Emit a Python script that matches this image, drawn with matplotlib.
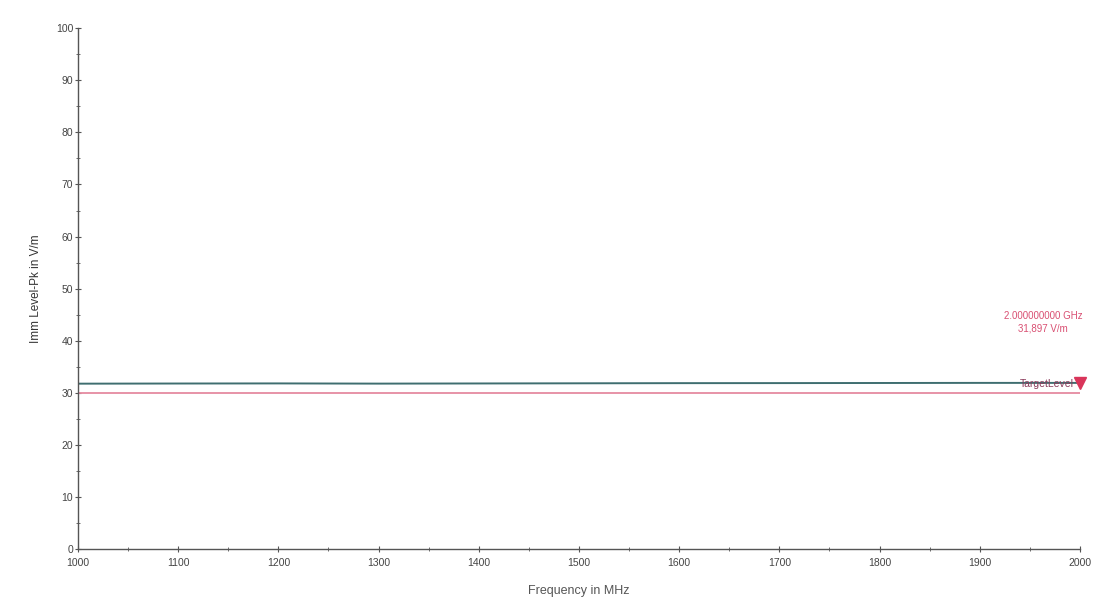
import numpy as np
import matplotlib.pyplot as plt
from matplotlib.ticker import MultipleLocator

plt.rcParams['font.family'] = ['Liberation Sans', 'DejaVu Sans']

# Measured immunity level (peak) and target level over frequency
freq_mhz = [1000, 1100, 1200, 1300, 1400, 1500, 1600, 1700, 1800, 1900, 2000]
level_vm = [31.75, 31.78, 31.80, 31.76, 31.79, 31.82, 31.85, 31.86, 31.88, 31.90, 31.897]
target_vm = [30.0, 30.0]
target_freq = [1000, 2000]
marker_freq = 2000
marker_level = 31.897

fig = plt.figure(figsize=(10.95, 6.01), dpi=100)
ax = fig.add_axes([0.0712, 0.0865, 0.915, 0.8665])

ax.plot(target_freq, target_vm, color='#e58aa0', lw=1.3)
ax.plot(freq_mhz, level_vm, color='#3f6e70', lw=1.4)
ax.text(1994, 31.6, 'TargetLevel', color='#8a3a5a', fontsize=7.5, ha='right', va='center')
ax.plot(marker_freq, marker_level, marker='v', color='#d9355a', ms=9, clip_on=False, zorder=5)
ax.text(1963, 41.3, '2.000000000 GHz\n31,897 V/m',
        color='#d94f72', fontsize=7, ha='center', va='bottom', linespacing=1.35)

ax.set_xlim(1000, 2000)
ax.set_ylim(0, 100)
ax.xaxis.set_major_locator(MultipleLocator(100))
ax.xaxis.set_minor_locator(MultipleLocator(50))
ax.yaxis.set_major_locator(MultipleLocator(10))
ax.yaxis.set_minor_locator(MultipleLocator(5))
ax.tick_params(which='both', direction='inout', color='#555555', labelsize=7.5, labelcolor='#444444')
ax.tick_params(which='major', length=5)
ax.tick_params(which='minor', length=3)
ax.tick_params(axis='y', pad=1)
ax.tick_params(axis='x', pad=4)

for side in ('top', 'right'):
    ax.spines[side].set_visible(False)
for side in ('left', 'bottom'):
    ax.spines[side].set_color('#555555')
    ax.spines[side].set_linewidth(1.0)

ax.set_xlabel('Frequency in MHz', fontsize=9, color='#555555', labelpad=12)
ax.set_ylabel('Imm Level-Pk in V/m', fontsize=8.5, color='#333333', labelpad=10)

fig.savefig('out.png', dpi=100)
